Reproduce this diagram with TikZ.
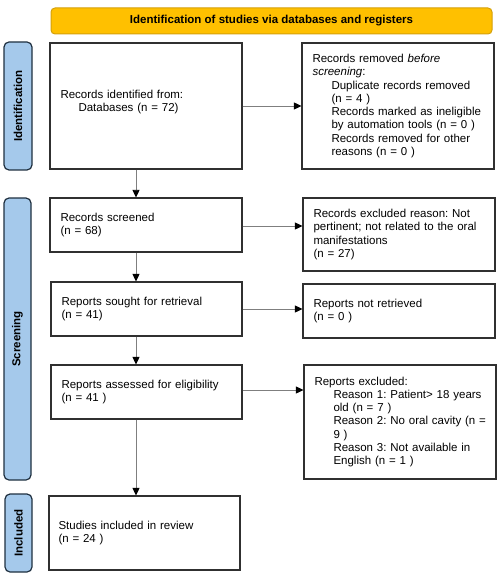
\documentclass[tikz,border=0pt]{standalone}
\usepackage{fontspec}
\setmainfont{Liberation Sans}
\usetikzlibrary{arrows.meta,calc}
\definecolor{bannerfill}{HTML}{FFC000}
\definecolor{bannerdraw}{HTML}{D4A00A}
\definecolor{sidefill}{HTML}{A5C9EB}
\definecolor{sidedraw}{HTML}{1F3040}
\definecolor{boxdraw}{HTML}{303030}
\definecolor{arrowgray}{HTML}{7F7F7F}
\newcommand{\ind}{\hspace*{19pt}}
\frenchspacing
\begin{document}
\begin{tikzpicture}[x=1pt,y=-1pt,
  txt/.style={font=\fontsize{11.5}{13.3}\selectfont\frenchspacing},
  box/.style={draw=boxdraw,line width=1.1pt,fill=white,txt,align=left,inner xsep=10.5pt,inner ysep=0pt},
  banner/.style={draw=bannerdraw,line width=1pt,fill=bannerfill,rounded corners=4pt,
    font=\bfseries\fontsize{11.5}{13.3}\selectfont,inner sep=0pt},
  side/.style={draw=sidedraw,line width=1.2pt,fill=sidefill,rounded corners=5pt,rotate=90,
    font=\bfseries\fontsize{11.5}{13.3}\selectfont,inner sep=0pt},
  arr/.style={draw=arrowgray,line width=0.8pt,-{Triangle[length=7.5pt,width=7pt,color=black]}}
]
\useasboundingbox (0,0) rectangle (500,577);

\node[banner,minimum width=441pt,minimum height=26pt] (ban) at (271.5,21) {Identification of studies via databases and registers};

\node[side,minimum width=128pt,minimum height=28pt] (sid) at (18,106) {Identification};
\node[side,minimum width=282pt,minimum height=27pt] (sscr) at (17.5,339) {Screening};
\node[side,minimum width=78pt,minimum height=27pt] (sinc) at (18.5,533) {Included};

\node[box,text width=171pt,minimum height=126pt] (b1) at (146,106)
  {\raisebox{4pt}[\height][\depth]{\parbox{171pt}{Records identified from:\\ \hspace*{18pt}Databases (n = 72)}}};
\node[box,text width=171pt,minimum height=126pt] (b2) at (398,106)
  {Records removed \textit{before}\\ \textit{screening}:\\ \ind Duplicate records removed\\ \ind (n = 4 )\\ \ind Records marked as ineligible\\ \ind by automation tools (n = 0 )\\ \ind Records removed for other\\ \ind reasons (n = 0 )};

\node[box,text width=171pt,minimum height=54pt] (b3) at (146,225)
  {Records screened\\ (n = 68)};
\node[box,text width=171pt,minimum height=73pt] (b4) at (399,234.5)
  {Records excluded reason: Not\\ pertinent; not related to the oral\\ manifestations\\ (n = 27)};

\node[box,text width=170pt,minimum height=54pt] (b5) at (146.5,309)
  {Reports sought for retrieval\\ (n = 41)};
\node[box,text width=171pt,minimum height=54pt] (b6) at (399,311)
  {Reports not retrieved\\ (n = 0 )};

\node[box,text width=170pt,minimum height=54pt] (b7) at (146.5,392)
  {Reports assessed for eligibility\\ (n = 41 )};
\node[box,text width=171pt,minimum height=114pt] (b8) at (400,422)
  {Reports excluded:\\ \ind\mbox{Reason 1: Patient> 18 years}\\ \ind old (n = 7 )\\ \ind\mbox{Reason 2: No oral cavity (n =}\\ \ind 9 )\\ \ind\mbox{Reason 3: Not available in}\\ \ind English (n = 1 )};

\node[box,text width=172pt,minimum height=74pt,inner xsep=9.5pt] (b9) at (144.5,533)
  {Studies included in review\\ (n = 24 )};

\draw[arr] (b1.east) -- (b2.west);
\draw[arr] ([yshift=-1pt]b3.east) -- ([yshift=-1pt]b3.east -| b4.west);
\draw[arr] (b5.east) -- (b5.east -| b6.west);
\draw[arr] ([yshift=2pt]b7.east) -- ([yshift=2pt]b7.east -| b8.west);

\draw[arr] ([xshift=-10pt]b1.south) -- ([xshift=-10pt]b1.south |- b3.north);
\draw[arr] ([xshift=-10pt]b3.south) -- ([xshift=-10pt]b3.south |- b5.north);
\draw[arr] ([xshift=-10.5pt]b5.south) -- ([xshift=-10.5pt]b5.south |- b7.north);
\draw[arr] ([xshift=-10.5pt]b7.south) -- ([xshift=-10.5pt]b7.south |- b9.north);
\end{tikzpicture}
\end{document}
